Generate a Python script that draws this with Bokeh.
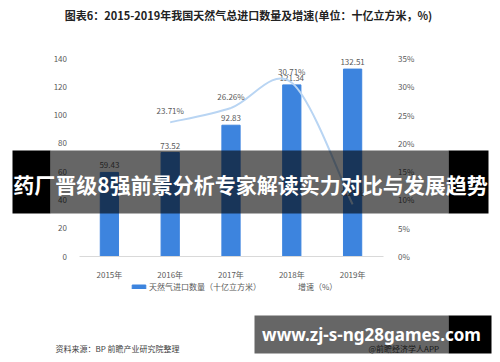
from bokeh.plotting import figure
from bokeh.models import (Range1d, LinearAxis, FixedTicker, PrintfTickFormatter, Label,
                          BoxAnnotation, Legend, LegendItem)
from bokeh.embed import file_html
from bokeh.resources import INLINE
from bokeh.core.properties import value

# ---- data ----
years = ["2015年", "2016年", "2017年", "2018年", "2019年"]
imports = [59.43, 73.52, 92.83, 121.34, 132.51]
import_labels = ["59.43", "73.52", "92.83", "121.34", "132.51"]
growth_years = ["2016年", "2017年", "2018年", "2019年"]
growth = [23.71, 26.26, 30.71, 9.21]
growth_labels = ["23.71%", "26.26%", "30.71%", "9.21%"]
left_ticks = [0, 20, 40, 60, 80, 100, 120, 140]
right_ticks = [0, 5, 10, 15, 20, 25, 30, 35]

FONT = "Noto Sans CJK SC"
BAR = "#3d84de"
LINE = "#b9d5f3"
GREY = "#595959"

# ---- layout constants (page pixels) ----
W, H = 500, 362
PLOT_L, PLOT_R = 78.5, 382.5      # category band edges
PLOT_T, PLOT_B = 58.0, 256.0      # top tick / baseline
LMAX, RMAX = 140.0, 35.0

xi = list(range(len(years)))
gx = [years.index(y) for y in growth_years]

step = (PLOT_R - PLOT_L) / len(years)
x0_page = PLOT_L + step / 2
xr = Range1d((0 - x0_page) / step, (W - x0_page) / step)
lpp = LMAX / (PLOT_B - PLOT_T)
yr = Range1d(-(H - PLOT_B) * lpp, PLOT_B * lpp)
rpp = RMAX / (PLOT_B - PLOT_T)
yr2 = Range1d(-(H - PLOT_B) * rpp, PLOT_B * rpp)

p = figure(width=W, height=H, output_backend="svg", toolbar_location=None,
           x_range=xr, y_range=yr, x_axis_location=None, y_axis_location=None,
           min_border=0, min_border_left=0, min_border_right=0,
           min_border_top=0, min_border_bottom=0)
p.extra_y_ranges = {"right": yr2}
p.outline_line_color = None
p.grid.visible = False
p.background_fill_color = "white"
p.border_fill_color = "white"

xa = LinearAxis(ticker=FixedTicker(ticks=xi), fixed_location=0, bounds=(-0.5, len(years) - 0.5),
                major_label_overrides={i: y for i, y in enumerate(years)})
xa.axis_line_color = "#d9d9d9"
xa.major_label_standoff = 6
la = LinearAxis(ticker=FixedTicker(ticks=left_ticks), fixed_location=-0.5, bounds=(0, LMAX))
la.axis_line_color = None
la.major_label_standoff = 6
ra = LinearAxis(y_range_name="right", ticker=FixedTicker(ticks=right_ticks),
                formatter=PrintfTickFormatter(format="%d%%"),
                fixed_location=len(years) - 0.5, bounds=(0, RMAX))
ra.axis_line_color = None
ra.major_label_standoff = 9
for ax in [xa, la, ra]:
    ax.major_tick_line_color = None
    ax.minor_tick_line_color = None
    ax.major_label_text_font = FONT
    ax.major_label_text_font_size = "8px"
    ax.major_label_text_color = GREY
p.add_layout(xa, "below")
p.add_layout(la, "left")
p.add_layout(ra, "right")

# bars
bars = p.vbar(x=xi, top=imports, width=0.3, color=BAR)
p.text(x=xi, y=imports, text=import_labels, text_align="center", text_baseline="bottom",
       y_offset=-4, text_font=value(FONT), text_font_size="8px", text_color=GREY)

# smooth growth curve (cubic Bezier through the data points)
n = len(growth)
x0, y0, x1, y1, cx0, cy0, cx1, cy1 = [], [], [], [], [], [], [], []
for i in range(n - 1):
    pa = (gx[max(i - 1, 0)], growth[max(i - 1, 0)])
    pb = (gx[i], growth[i])
    pc = (gx[i + 1], growth[i + 1])
    pd = (gx[min(i + 2, n - 1)], growth[min(i + 2, n - 1)])
    x0.append(pb[0]); y0.append(pb[1]); x1.append(pc[0]); y1.append(pc[1])
    cx0.append(pb[0] + (pc[0] - pa[0]) / 6); cy0.append(pb[1] + (pc[1] - pa[1]) / 6)
    cx1.append(pc[0] - (pd[0] - pb[0]) / 6); cy1.append(pc[1] - (pd[1] - pb[1]) / 6)
p.bezier(x0=x0, y0=y0, x1=x1, y1=y1, cx0=cx0, cy0=cy0, cx1=cx1, cy1=cy1,
         line_color=LINE, line_width=2, y_range_name="right")
legend_line = p.line(x=[], y=[], line_color=LINE, line_width=2, y_range_name="right")
p.text(x=gx, y=growth, text=growth_labels, text_align="center", text_baseline="bottom",
       y_offset=-6, y_range_name="right", text_font=value(FONT), text_font_size="8px",
       text_color=GREY)

legend = Legend(items=[LegendItem(label="天然气进口数量（十亿立方米）", renderers=[bars]),
                       LegendItem(label="增速（%）", renderers=[legend_line])],
                orientation="horizontal", location=(130, H - 292), padding=0, margin=0,
                spacing=18, label_standoff=2, glyph_width=17, glyph_height=5,
                label_height=10, border_line_color=None, background_fill_alpha=0,
                label_text_font=FONT, label_text_font_size="8px", label_text_color=GREY)
p.add_layout(legend)

def lab(x, y, text, size, color, align="left", bold=False, font=FONT):
    p.add_layout(Label(x=x, y=H - y, x_units="screen", y_units="screen", text=text,
                       text_align=align, text_baseline="middle", text_font=font,
                       text_font_size=size, text_font_style="bold" if bold else "normal",
                       text_color=color))

lab(248, 14, "图表6：2015-2019年我国天然气总进口数量及增速(单位：十亿立方米，%)",
    "11px", "#222222", align="center", bold=True)
lab(55, 348, "资料来源：BP  前瞻产业研究院整理", "8px", "#404040")
lab(368, 348, "@前瞻经济学人APP", "8px", "#404040")

# overlay banners
def box(l, r, t, b, color, alpha):
    p.add_layout(BoxAnnotation(left=l, right=r, top=H - t, bottom=H - b, left_units="screen",
                               right_units="screen", top_units="screen", bottom_units="screen",
                               fill_color=color, fill_alpha=alpha, line_color=None))

box(12, 50, 150, 213, "black", 1.0)
box(50, 448, 150, 213, "black", 0.6)
box(448, 488, 150, 213, "black", 1.0)
lab(250, 183, "药厂晋级8强前景分析专家解读实力对比与发展趋势", "21px", "white",
    align="center", bold=True)

box(254, 448, 315, 353, "black", 0.6)
box(448, 491, 315, 353, "black", 1.0)
lab(371, 334, "www.zj-s-ng28games.com", "17px", "white", align="center", bold=True,
    font="Noto Sans")

open("out.html", "w").write(file_html(p, INLINE))
